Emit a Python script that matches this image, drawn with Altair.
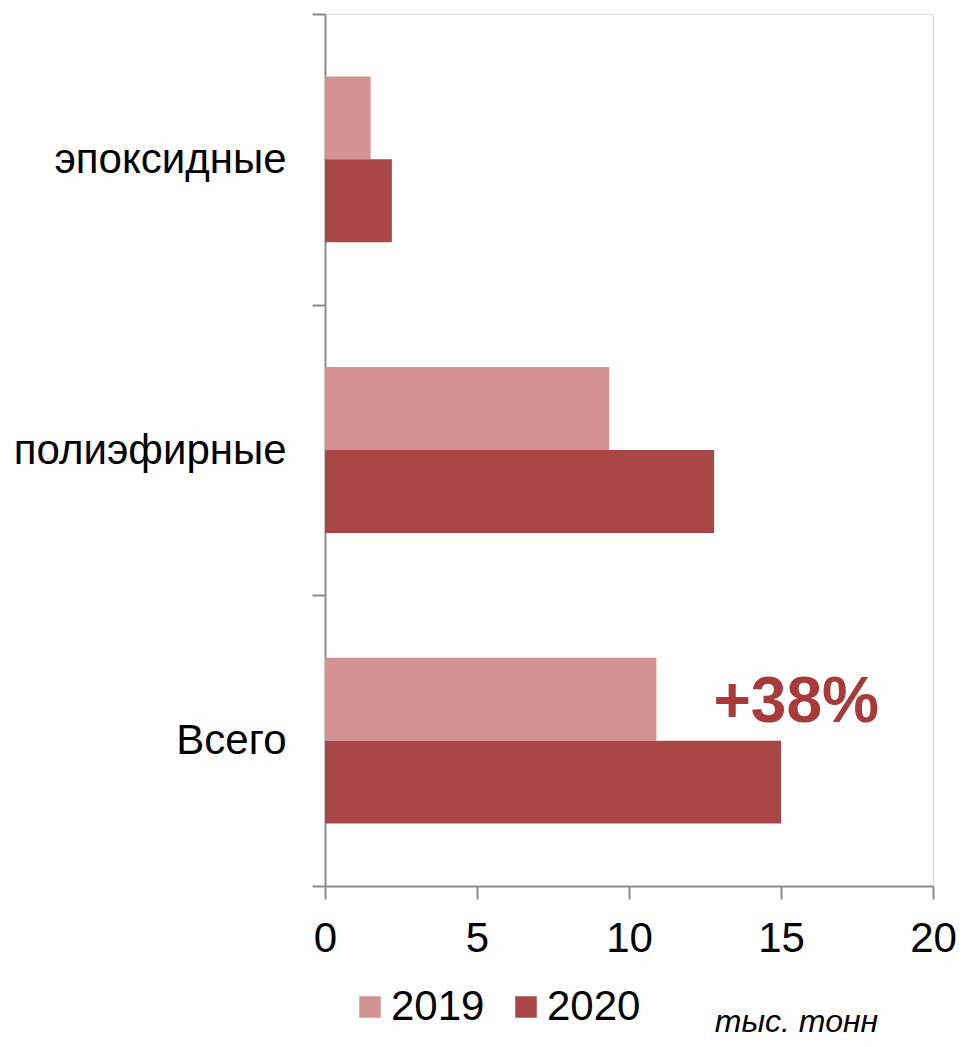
import altair as alt
import pandas as pd

categories = ["эпоксидные", "полиэфирные", "Всего"]
years = ["2019", "2020"]
values_2019 = [1.5, 9.35, 10.9]
values_2020 = [2.2, 12.8, 15.0]
x_ticks = [0, 5, 10, 15, 20]
colors = ["#D39392", "#A84746"]
annotation_text = ["+38%"]
annotation_category = ["Всего"]
annotation_x = [15.5]

rows = []
for c, v19, v20 in zip(categories, values_2019, values_2020):
    rows.append({"cat": c, "year": "2019", "value": v19})
    rows.append({"cat": c, "year": "2020", "value": v20})
df = pd.DataFrame(rows)

ann = pd.DataFrame({"text": annotation_text, "cat": annotation_category, "x": annotation_x})

FONT = "Liberation Sans"
GRAY = "#8C8C8C"

y_enc = alt.Y(
    "cat:N",
    sort=categories,
    scale=alt.Scale(paddingInner=0, paddingOuter=0),
    axis=alt.Axis(
        title=None,
        grid=False,
        domainColor=GRAY,
        domainWidth=2,
        tickColor=GRAY,
        tickWidth=2,
        tickSize=13,
        tickBand="extent",
        labelFontSize=42,
        labelColor="black",
        labelFont=FONT,
        labelPadding=26,
        labelLimit=400,
    ),
)

bars = alt.Chart(df).mark_bar().encode(
    y=y_enc,
    yOffset=alt.YOffset(
        "year:N",
        sort=years,
        scale=alt.Scale(paddingInner=0, paddingOuter=0.753),
    ),
    x=alt.X(
        "value:Q",
        scale=alt.Scale(domain=[0, 20], nice=False),
        axis=alt.Axis(
            values=x_ticks,
            grid=False,
            domainColor=GRAY,
            domainWidth=2,
            tickColor=GRAY,
            tickWidth=2,
            tickSize=13,
            labelFontSize=42,
            labelColor="black",
            labelFont=FONT,
            labelPadding=19,
            labelFlush=False,
            title="тыс. тонн",
            titleFont=FONT,
            titleFontSize=32,
            titleFontStyle="italic",
            titleFontWeight="normal",
            titleColor="black",
            titleX=471,
            titleY=145,
            titleAlign="center",
            titleBaseline="alphabetic",
        ),
    ),
    color=alt.Color(
        "year:N",
        scale=alt.Scale(domain=years, range=colors),
        legend=alt.Legend(
            title=None,
            orient="none",
            direction="horizontal",
            legendX=24,
            legendY=972,
            symbolType="square",
            symbolSize=462,
            symbolStrokeWidth=0,
            labelFontSize=42,
            labelFont=FONT,
            labelColor="black",
            labelOffset=0,
            columnPadding=20,
            padding=0,
        ),
    ),
)

text = alt.Chart(ann).mark_text(
    font=FONT,
    fontSize=64,
    fontWeight="bold",
    color="#A93A3A",
    align="center",
    baseline="alphabetic",
    dy=-19,
).encode(
    x=alt.X("x:Q"),
    y=alt.Y("cat:N", sort=categories),
    text="text:N",
)

chart = (
    alt.layer(bars, text)
    .properties(
        width=608,
        height=872,
        autosize=alt.AutoSizeParams(type="none"),
        padding={"left": 317, "top": 6, "right": 24, "bottom": 153},
    )
    .configure_view(stroke="transparent", strokeWidth=0, strokeOpacity=0)
    .configure_axis(grid=False)
    .configure(font=FONT, background="white")
)

chart.save("out.html", embed_options={"renderer": "svg", "actions": False})
